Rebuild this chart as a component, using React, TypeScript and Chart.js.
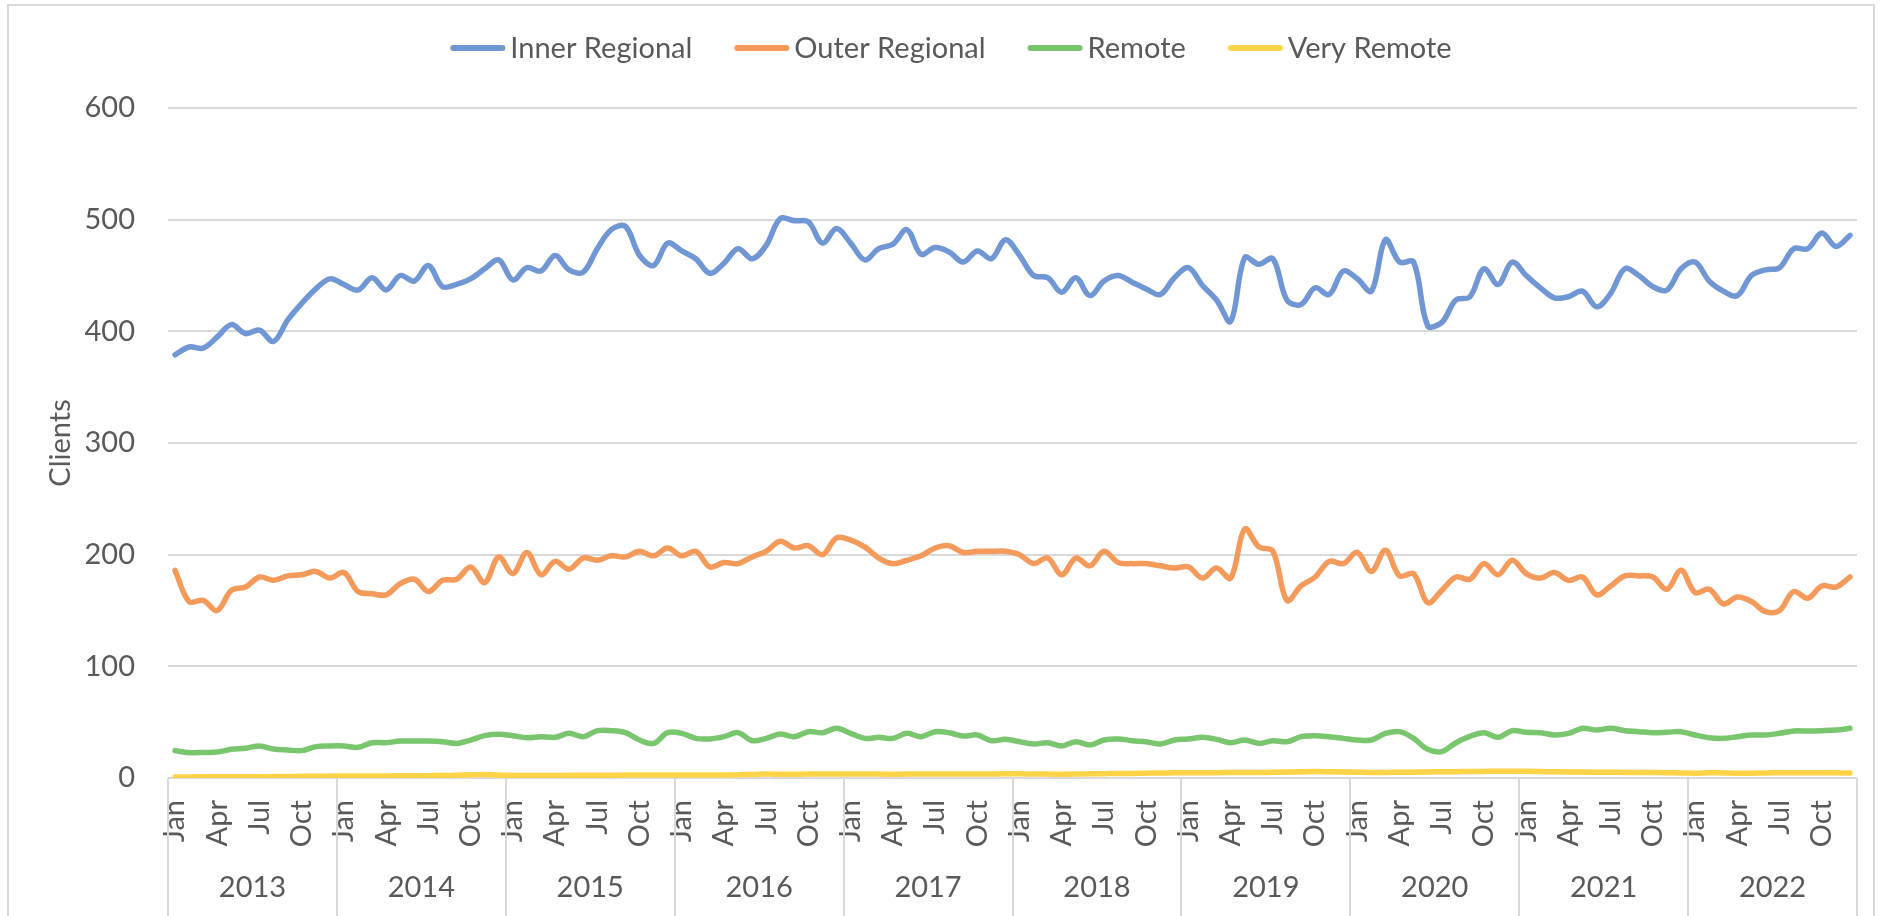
import React, { useEffect, useRef } from 'react';
import { Chart, registerables } from 'chart.js';

Chart.register(...registerables);

const years = ['2013', '2014', '2015', '2016', '2017', '2018', '2019', '2020', '2021', '2022'];
const monthNames = ['Jan', 'Feb', 'Mar', 'Apr', 'May', 'Jun', 'Jul', 'Aug', 'Sep', 'Oct', 'Nov', 'Dec'];
const categories = years.flatMap(() => monthNames);
const yTicks = [0, 100, 200, 300, 400, 500, 600];

const innerRegional = [
  379, 386, 385, 395, 406, 398, 401, 391, 410, 425, 438, 447,
  442, 437, 448, 437, 450, 445, 459, 440, 442, 447, 456, 464,
  446, 457, 454, 468, 455, 453, 474, 491, 494, 468, 459, 479,
  472, 465, 452, 461, 474, 465, 477, 501, 499, 498, 479, 492,
  479, 464, 474, 478, 491, 469, 475, 471, 462, 472, 465, 482,
  468, 450, 448, 435, 448, 432, 445, 450, 444, 438, 433, 448,
  457, 441, 428, 409, 466, 460, 465, 428, 424, 439, 433, 454,
  447, 436, 482, 462, 462, 405, 408, 428, 431, 456, 442, 462,
  450, 439, 430, 431, 436, 422, 434, 456, 450, 440, 437, 456,
  462, 445, 436, 432, 450, 455, 457, 474, 474, 488, 476, 486,
];

const outerRegional = [
  186, 158, 159, 150, 168, 171, 180, 177, 181, 182, 185, 179,
  184, 167, 165, 164, 174, 178, 167, 177, 178, 189, 175, 198,
  183, 202, 182, 194, 187, 197, 195, 199, 198, 203, 199, 206,
  199, 203, 189, 193, 192, 198, 203, 212, 206, 208, 200, 215,
  213, 207, 197, 192, 195, 199, 206, 208, 202, 203, 203, 203,
  200, 192, 197, 182, 197, 190, 203, 193, 192, 192, 190, 188,
  189, 179, 188, 179, 223, 207, 203, 159, 172, 180, 194, 192,
  202, 185, 204, 181, 183, 157, 168, 180, 178, 192, 182, 195,
  183, 179, 184, 177, 180, 164, 172, 181, 181, 180, 169, 186,
  166, 169, 156, 162, 158, 149, 150, 167, 161, 172, 171, 180,
];

const remote = [
  24.5, 22.7, 22.9, 23.2, 25.7, 26.6, 28.7, 26, 25.1, 24.5, 28.1, 28.7,
  28.7, 27.5, 31.6, 31.6, 33.1, 33.1, 33.1, 32.5, 31, 34, 37.9, 39.1,
  37.9, 36.1, 37, 36.4, 40, 37, 42.4, 42.4, 40.6, 34, 31, 40.6,
  40, 35.5, 35, 37, 40.6, 33.4, 35.5, 39.4, 37, 41.5, 40.6, 44.5,
  40, 35.5, 36.4, 35.5, 40, 37, 41.5, 40.6, 37.6, 38.5, 33.4, 34.6,
  32.5, 30.4, 31.6, 28.7, 32.5, 29.6, 34, 35, 33.4, 32.5, 30.4, 34,
  35, 36.4, 34.6, 31.6, 34, 31, 33.4, 32.5, 37, 37.9, 37, 35.5,
  34, 34, 40, 41.5, 35.5, 25.7, 23.6, 31.6, 37.3, 40.6, 36.4, 42.4,
  41, 40.6, 38.5, 40, 44.5, 43, 44.5, 42.4, 41.5, 40.6, 41, 41.5,
  38.5, 36.1, 35.5, 37, 38.5, 38.5, 40, 42.1, 42.1, 42.4, 43, 44.5,
];

const veryRemote = [
  1.0, 1.0, 1.1, 1.1, 1.2, 1.2, 1.1, 1.3, 1.4, 1.5, 1.6, 1.7,
  1.8, 1.8, 1.9, 1.9, 2.0, 2.0, 2.1, 2.2, 2.4, 2.8, 3.2, 2.6,
  2.2, 2.2, 2.3, 2.3, 2.4, 2.4, 2.5, 2.5, 2.6, 2.6, 2.7, 2.7,
  2.6, 2.6, 2.7, 2.7, 2.9, 3.2, 3.5, 3.4, 3.4, 3.5, 3.5, 3.6,
  3.6, 3.6, 3.5, 3.4, 3.5, 3.6, 3.6, 3.5, 3.5, 3.6, 3.6, 3.7,
  3.7, 3.6, 3.5, 3.3, 3.5, 3.7, 3.9, 4.0, 4.1, 4.3, 4.5, 4.6,
  4.6, 4.7, 4.8, 4.9, 5.0, 5.0, 5.1, 5.3, 5.6, 5.8, 5.6, 5.4,
  5.2, 5.0, 5.0, 5.1, 5.2, 5.4, 5.6, 5.7, 5.8, 5.9, 6.0, 6.0,
  6.0, 5.8, 5.6, 5.4, 5.3, 5.2, 5.1, 5.0, 5.0, 5.0, 4.8, 4.5,
  4.3, 4.8, 4.5, 4.2, 4.3, 4.5, 4.7, 4.8, 4.8, 4.7, 4.6, 4.5,
];

const seriesNames = ['Inner Regional', 'Outer Regional', 'Remote', 'Very Remote'];
const seriesValues = [innerRegional, outerRegional, remote, veryRemote];
const seriesColors = ['#7096D4', '#F49A5B', '#7AC66F', '#FFD447'];

const FONT = 'Lato, "Open Sans", sans-serif';
const FONT_SIZE = 29;
const TEXT_COLOR = '#595959';
const GRID_COLOR = '#D9D9D9';

const CANVAS_W = 1864;
const CANVAS_H = 916;

const legendPlugin = {
  id: 'topLegend',
  afterDraw(chart: any) {
    const ctx = chart.ctx as CanvasRenderingContext2D;
    ctx.save();
    ctx.font = `${FONT_SIZE}px ${FONT}`;
    ctx.textBaseline = 'middle';
    ctx.textAlign = 'left';
    const items = chart.data.datasets.map((ds: any) => ({
      text: ds.label as string,
      color: ds.borderColor as string,
      w: ctx.measureText(ds.label).width,
    }));
    const symW = 55;
    const gapST = 5;
    const gapItem = 42;
    const total =
      items.reduce((s: number, it: any) => s + symW + gapST + it.w, 0) + gapItem * (items.length - 1);
    let x = 942 - total / 2;
    const y = 42;
    items.forEach((it: any) => {
      ctx.beginPath();
      ctx.strokeStyle = it.color;
      ctx.lineWidth = 6;
      ctx.lineCap = 'round';
      ctx.moveTo(x + 3, y);
      ctx.lineTo(x + symW - 3, y);
      ctx.stroke();
      ctx.fillStyle = TEXT_COLOR;
      ctx.fillText(it.text, x + symW + gapST, y + 1);
      x += symW + gapST + it.w + gapItem;
    });
    ctx.restore();
  },
};

const yearAxisPlugin = {
  id: 'yearAxis',
  afterDraw(chart: any) {
    const ctx = chart.ctx as CanvasRenderingContext2D;
    const xs = chart.scales.x;
    const area = chart.chartArea;
    const step = xs.getPixelForValue(1) - xs.getPixelForValue(0);
    const start = xs.getPixelForValue(0) - step / 2;
    ctx.save();
    ctx.strokeStyle = GRID_COLOR;
    ctx.lineWidth = 2;
    for (let k = 0; k <= years.length; k++) {
      const px = Math.round(start + k * 12 * step);
      ctx.beginPath();
      ctx.moveTo(px, area.bottom);
      ctx.lineTo(px, chart.height);
      ctx.stroke();
    }
    ctx.font = `${FONT_SIZE}px ${FONT}`;
    ctx.fillStyle = TEXT_COLOR;
    ctx.textAlign = 'center';
    ctx.textBaseline = 'middle';
    years.forEach((yr, k) => {
      const cx = start + (k * 12 + 6) * step;
      ctx.fillText(yr, cx, 882);
    });
    ctx.restore();
  },
};

export default function App() {
  const canvasRef = useRef<HTMLCanvasElement | null>(null);

  useEffect(() => {
    if (!canvasRef.current) return;
    const chart = new Chart(canvasRef.current, {
      type: 'line',
      data: {
        labels: categories,
        datasets: seriesNames.map((name, i) => ({
          label: name,
          data: seriesValues[i],
          borderColor: seriesColors[i],
          backgroundColor: seriesColors[i],
          borderWidth: 5.5,
          pointRadius: 0,
          pointHoverRadius: 0,
          tension: 0.35,
          borderCapStyle: 'round',
          borderJoinStyle: 'round',
          fill: false,
        })),
      },
      options: {
        responsive: false,
        animation: false,
        events: [],
        layout: { padding: { top: 102, left: 0, right: 16, bottom: 0 } },
        plugins: {
          legend: { display: false },
          tooltip: { enabled: false },
          title: { display: false },
        },
        scales: {
          x: {
            type: 'category',
            offset: true,
            grid: { display: false, drawTicks: false },
            border: { display: false },
            ticks: {
              autoSkip: false,
              maxRotation: 90,
              minRotation: 90,
              padding: 22,
              color: TEXT_COLOR,
              font: { family: FONT, size: FONT_SIZE },
              callback: (_v: any, index: number) => (index % 3 === 0 ? categories[index] : ''),
            },
            afterFit: (scale: any) => {
              scale.height = CANVAS_H - 772;
              scale.paddingLeft = 0;
              scale.paddingRight = 0;
            },
          },
          y: {
            min: 0,
            max: 600,
            afterBuildTicks: (scale: any) => {
              scale.ticks = yTicks.map((v) => ({ value: v }));
            },
            grid: { color: GRID_COLOR, lineWidth: 2, drawTicks: false },
            border: { display: false },
            ticks: {
              padding: 33,
              color: TEXT_COLOR,
              font: { family: FONT, size: FONT_SIZE },
            },
            title: {
              display: true,
              text: 'Clients',
              color: TEXT_COLOR,
              font: { family: FONT, size: FONT_SIZE },
              padding: { top: 34, bottom: 0 },
            },
            afterFit: (scale: any) => {
              scale.width = 159;
            },
          },
        },
      },
      plugins: [legendPlugin, yearAxisPlugin],
    } as any);
    return () => chart.destroy();
  }, []);

  return (
    <div
      style={{
        position: 'fixed',
        left: 7,
        top: 4,
        width: CANVAS_W,
        height: 920,
        border: '2px solid #D9D9D9',
        background: '#FFFFFF',
        overflow: 'hidden',
      }}
    >
      <canvas
        ref={canvasRef}
        width={CANVAS_W}
        height={CANVAS_H}
        style={{ display: 'block', width: CANVAS_W, height: CANVAS_H }}
      />
    </div>
  );
}
